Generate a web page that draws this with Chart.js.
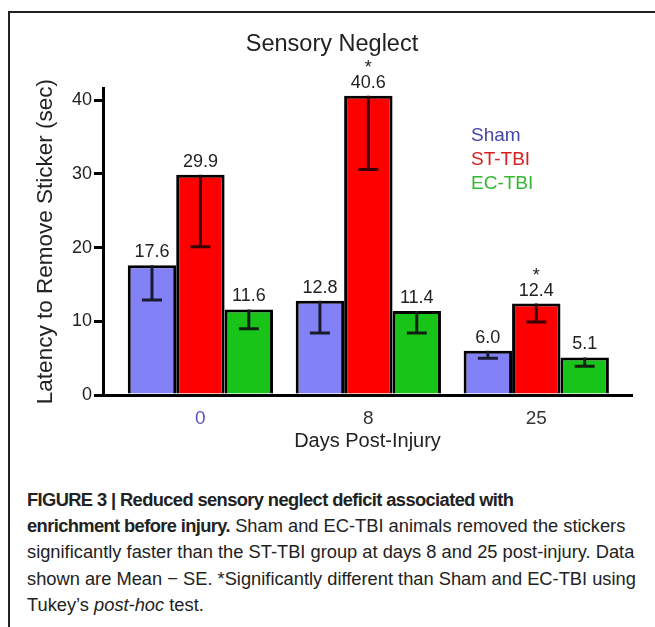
<!DOCTYPE html>
<html>
<head>
<meta charset="utf-8">
<script src="https://cdn.jsdelivr.net/npm/chart.js@4.4.0/dist/chart.umd.min.js"></script>
<style>
  html, body { margin: 0; padding: 0; background: #fff; }
  body { width: 655px; height: 627px; position: relative; overflow: hidden; }
  #frame { position: absolute; left: 8px; top: 11px; right: -10px; bottom: -10px;
           border-left: 2px solid #222; border-top: 2px solid #222; }
  #myChart { position: absolute; left: 0; top: 0; }
  #caption { position: absolute; left: 27px; top: 487px; width: 625px;
             font-family: "Liberation Sans", Arial, sans-serif;
             font-size: 18.3px; line-height: 26.2px; color: #222; white-space: nowrap; }
  #caption b { font-weight: bold; letter-spacing: -0.6px; }
</style>
</head>
<body>
<div id="frame"></div>
<canvas id="myChart" width="655" height="470"></canvas>
<div id="caption">
<b>FIGURE 3 | Reduced sensory neglect deficit associated with</b><br>
<b>enrichment before injury.</b> Sham and EC-TBI animals removed the stickers<br>
significantly faster than the ST-TBI group at days 8 and 25 post-injury. Data<br>
shown are Mean &minus; SE. *Significantly different than Sham and EC-TBI using<br>
Tukey’s <i>post-hoc</i> test.
</div>
<script>
const days = ["0", "8", "25"];
const groups = ["Sham", "ST-TBI", "EC-TBI"];
const sham = [17.6, 12.8, 6.0];
const stTbi = [29.9, 40.6, 12.4];
const ecTbi = [11.6, 11.4, 5.1];
const shamSE = [4.7, 4.4, 1.0];
const stTbiSE = [9.8, 10.0, 2.5];
const ecTbiSE = [2.6, 3.0, 1.2];
const stTbiStars = ["", "*", "*"];
const yTicks = [0, 10, 20, 30, 40];

const chart = document.getElementById("myChart");
const font = "'Liberation Sans', Arial, sans-serif";

const toPoints = (values) => values.map((v, i) => ({x: i, y: v}));

const errorAndLabels = {
    id: "errorAndLabels",
    afterDatasetsDraw(c) {
        const ctx = c.ctx;
        const y = c.scales.y;
        c.data.datasets.forEach((ds, d) => {
            const meta = c.getDatasetMeta(d);
            meta.data.forEach((bar, i) => {
                const top = bar.y;
                const low = y.getPixelForValue(ds.data[i].y - ds.se[i]);
                ctx.save();
                ctx.strokeStyle = ds.errColor;
                ctx.lineWidth = 3;
                ctx.beginPath();
                ctx.moveTo(bar.x, top);
                ctx.lineTo(bar.x, low);
                ctx.moveTo(bar.x - 10, low);
                ctx.lineTo(bar.x + 10, low);
                ctx.stroke();
                ctx.fillStyle = "#222";
                ctx.font = "18px " + font;
                ctx.textAlign = "center";
                ctx.textBaseline = "bottom";
                ctx.fillText(ds.data[i].y.toFixed(1), bar.x, top - 4);
                if (ds.stars && ds.stars[i]) {
                    ctx.fillText(ds.stars[i], bar.x, top - 19);
                }
                ctx.restore();
            });
        });
        // legend text
        const legendColors = ["#4545a8", "#d92020", "#35b835"];
        ctx.save();
        ctx.font = "19px " + font;
        ctx.textBaseline = "middle";
        groups.forEach((g, i) => {
            ctx.fillStyle = legendColors[i];
            ctx.fillText(g, 471, 136 + i * 24);
        });
        ctx.restore();
    }
};

const datasets = [
    {label: groups[0], data: toPoints(sham), se: shamSE, backgroundColor: "#8282f6", errColor: "#1a1a30"},
    {label: groups[1], data: toPoints(stTbi), se: stTbiSE, stars: stTbiStars, backgroundColor: "#ff0000", errColor: "#3a0000"},
    {label: groups[2], data: toPoints(ecTbi), se: ecTbiSE, backgroundColor: "#18c418", errColor: "#102010"},
];
datasets.forEach((ds) => {
    ds.borderColor = "#000";
    ds.borderWidth = 3;
    ds.categoryPercentage = 0.865;
    ds.barPercentage = 1;
});

const config = {
    type: "bar",
    data: {datasets},
    options: {
        responsive: false,
        animation: false,
        layout: {padding: {left: 32, right: 23, top: 0, bottom: 15}},
        plugins: {
            legend: {display: false},
            tooltip: {enabled: false},
            title: {
                display: true,
                text: "Sensory Neglect",
                color: "#222",
                font: {family: font, size: 23.5, weight: "normal"},
                padding: {top: 30, bottom: 30}
            }
        },
        scales: {
            x: {
                type: "linear",
                offset: false,
                min: -0.58,
                max: 2.57,
                afterFit: (s) => { s.height = 60; },
                grid: {display: false, offset: false},
                border: {display: true, color: "#000", width: 3},
                ticks: {
                    stepSize: 1,
                    includeBounds: false,
                    padding: 4,
                    font: {family: font, size: 19},
                    color: (c) => (c.tick && c.tick.value === 0 ? "#5555c0" : "#333"),
                    callback: (v) => days[v]
                },
                title: {
                    display: true,
                    text: "Days Post-Injury",
                    color: "#222",
                    font: {family: font, size: 20},
                    padding: {top: 0, bottom: 2}
                }
            },
            y: {
                min: 0,
                max: 41.63,
                afterFit: (s) => { s.width = 71; },
                afterBuildTicks: (s) => { s.ticks = yTicks.map((v) => ({value: v})); },
                grid: {drawOnChartArea: false, drawTicks: true, tickLength: 9, color: "#000", lineWidth: 3},
                border: {display: true, color: "#000", width: 3},
                ticks: {
                    padding: 2,
                    font: {family: font, size: 18},
                    color: "#222"
                },
                title: {
                    display: true,
                    text: "Latency to Remove Sticker (sec)",
                    color: "#222",
                    font: {family: font, size: 22.5},
                    padding: {top: 0, bottom: 0}
                }
            }
        }
    },
    plugins: [errorAndLabels]
};

const myChart = new Chart(chart, config);
</script>
</body>
</html>
